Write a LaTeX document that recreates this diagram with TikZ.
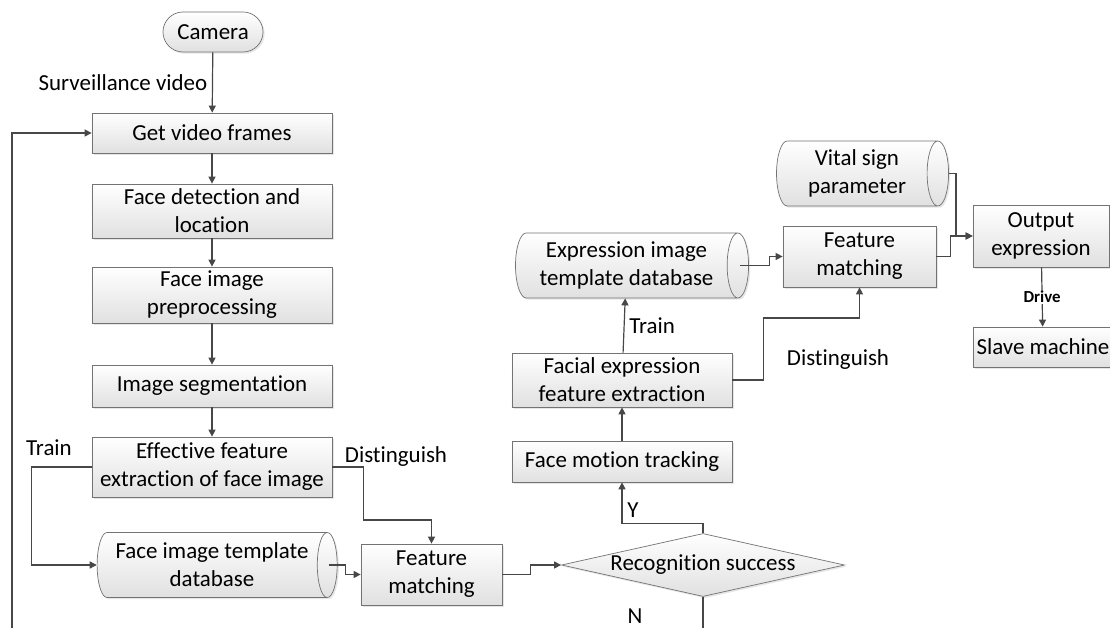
\documentclass[tikz,border=0pt]{standalone}
\usepackage{fontspec}
\setmainfont{Carlito}[Ligatures=NoCommon]
\usetikzlibrary{arrows.meta,shapes.geometric,shadows}

\begin{document}
\begin{tikzpicture}[x=0.025cm,y=-0.025cm,
  font=\fontsize{16.3}{20}\selectfont,
  line/.style={draw=black!72, line width=0.85pt},
  arr/.style={line, -{Triangle[length=5pt,width=5pt]}},
  base/.style={draw=black!55, line width=0.5pt, top color=white, bottom color=black!12,
    align=center, inner sep=0pt,
    drop shadow={shadow xshift=1.2pt,shadow yshift=-1.2pt,opacity=0.2}},
  proc/.style={base, rectangle, minimum width=6cm},
  term/.style={base, rectangle, rounded corners=0.5cm, minimum width=2.5cm, minimum height=1cm},
  db/.style={base, cylinder, aspect=0.45, minimum width=1.625cm},
  dec/.style={base, diamond, aspect=4.5, minimum width=7.075cm, minimum height=1.575cm}
]
\useasboundingbox (0,0) rectangle (1110,628);

% left column
\node[term] (cam) at (213,32) {Camera};
\node[proc, minimum height=1cm] (gvf) at (212,133) {Get video frames};
\node[proc, minimum height=1.35cm] (fdl) at (212,211) {Face detection and\\location};
\node[proc, minimum height=1.4cm] (fip) at (212,295) {Face image\\preprocessing};
\node[proc, minimum height=1.05cm] (seg) at (212,386) {Image segmentation};
\node[proc, minimum height=1.5cm] (eff) at (212,467) {Effective feature\\extraction of face image};
\node[db, minimum height=6cm] (fdb) at (212,565) {Face image template\\database};
\node[proc, minimum width=3.525cm, minimum height=1.525cm] (fm1) at (431.5,574.5) {Feature\\matching};

% right part
\node[dec] (dia) at (703,565) {Recognition success};
\node[proc, minimum width=5.5cm, minimum height=1.025cm] (fmt) at (622,461.5) {Face motion tracking};
\node[proc, minimum width=5.5cm, minimum height=1.35cm] (fef) at (622,380) {Facial expression\\feature extraction};
\node[db, minimum height=5.825cm] (edb) at (626.5,265.5) {Expression image\\template database};
\node[proc, minimum width=3.825cm, minimum height=1.525cm] (fm2) at (859.5,256.5) {Feature\\matching};
\node[db, minimum height=4.3cm] (vsp) at (857,173.5) {Vital sign\\parameter};
\node[proc, minimum width=3.4cm, minimum height=1.55cm] (oe) at (1041,236) {Output\\expression};
\node[proc, minimum width=3.5cm, minimum height=1cm] (slv) at (1043,347) {Slave machine};

\coordinate (lb) at (12,628);
\coordinate (nb) at (703,628);

% connectors
\draw[arr] (cam) -- node[midway,left] {Surveillance video} (gvf);
\draw[arr] (gvf) -- (fdl);
\draw[arr] (fdl) -- (fip);
\draw[arr] (fip) -- (seg);
\draw[arr] (seg) -- (eff);
\draw[arr] (lb) |- (gvf.west);
\draw[arr] (eff.west) -- ++(-60,0) |- (fdb.west);
\node at (49,448) {Train};
\draw[arr] (eff.east) -- ++(31,0) -- ++(0,53) -| (fm1.north);
\node at (396,457) {Distinguish};
\draw[arr] ([xshift=-0.22cm]fdb.east) -- ++(17,0) |- (fm1.west);
\draw[arr] (fm1.east) -- ++(28,0) |- (dia.west);
\draw[arr] (dia.north) -- ++(0,-10) -| (fmt.south);
\node at (633,510) {Y};
\draw[line] (dia.south) -- (nb);
\node at (635,616) {N};
\draw[arr] (fmt) -- (fef);
\draw[arr] (fef) -- node[midway,right] {Train} (edb);
\draw[arr] (fef.east) -- ++(31,0) -- ++(0,-62) -| (fm2.south);
\node at (838,360) {Distinguish};
\draw[arr] ([xshift=-0.22cm]edb.east) -- ++(29,0) |- (fm2.west);
\draw[arr] (vsp.east) -- ++(7,0) |- (oe.west);
\draw[arr] (fm2.east) -- ++(14,0) |- (oe.west);
\draw[arr] (oe) -- node[midway,fill=white,inner sep=1pt,font=\fontsize{12}{13}\selectfont\bfseries] {Drive} (slv);
\end{tikzpicture}
\end{document}
